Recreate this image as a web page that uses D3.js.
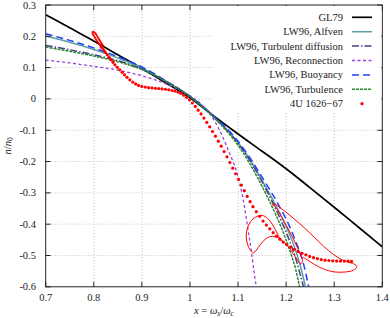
<!DOCTYPE html>
<html lang="en">
<head>
<meta charset="UTF-8">
<title>n/n0 vs x</title>
<style>
  body { margin: 0; background: #fff; }
  text { font-family: "Liberation Serif", "Times New Roman", serif; fill: #222; }
</style>
</head>
<body>
<script src="https://d3js.org/d3.v7.min.js"></script>
<div id="chart"></div>
<script>

// tick values
var xTicks = [0.7, 0.8, 0.9, 1.0, 1.1, 1.2, 1.3, 1.4]
var yTicks = [0.3, 0.2, 0.1, 0, -0.1, -0.2, -0.3, -0.4, -0.5, -0.6]

// model curves
var gl79 = [[0.7,0.269],[0.75,0.227],[0.8,0.185],[0.85,0.141],[0.9,0.097],[0.95,0.051],[1.0,0.004],
  [1.05,-0.055],[1.1,-0.112],[1.15,-0.167],[1.2,-0.223],[1.25,-0.284],[1.3,-0.346],[1.35,-0.409],[1.4,-0.472]]

var alfven = [[0.7,0.201],[0.75,0.181],[0.8,0.158],[0.85,0.131],[0.9,0.099],[0.95,0.056],[1.0,0.008],
  [1.05,-0.057],[1.1,-0.14],[1.13,-0.207],[1.15,-0.26],[1.17,-0.315],[1.19,-0.375],[1.205,-0.425],
  [1.22,-0.485],[1.23,-0.535],[1.24,-0.6]]

var turbDiff = [[0.7,0.171],[0.75,0.157],[0.8,0.141],[0.85,0.122],[0.9,0.095],[0.95,0.056],[1.0,0.008],
  [1.05,-0.058],[1.1,-0.142],[1.13,-0.21],[1.15,-0.265],[1.17,-0.325],[1.19,-0.39],[1.205,-0.445],
  [1.22,-0.51],[1.236,-0.6]]

var reconnection = [[0.7,0.124],[0.75,0.115],[0.8,0.104],[0.85,0.092],[0.9,0.074],[0.95,0.048],[1.0,0.01],
  [1.02,-0.012],[1.04,-0.045],[1.06,-0.095],[1.07,-0.128],[1.08,-0.165],[1.09,-0.202],[1.097,-0.232],
  [1.103,-0.268],[1.11,-0.315],[1.115,-0.36],[1.12,-0.41],[1.128,-0.49],[1.133,-0.55],[1.138,-0.6]]

var buoyancy = [[0.7,0.208],[0.75,0.187],[0.8,0.163],[0.85,0.135],[0.9,0.102],[0.95,0.058],[1.0,0.008],
  [1.05,-0.056],[1.1,-0.135],[1.13,-0.2],[1.15,-0.25],[1.17,-0.3],[1.19,-0.355],[1.205,-0.4],
  [1.22,-0.455],[1.235,-0.52],[1.247,-0.6]]

var turbulence = [[0.7,0.166],[0.75,0.152],[0.8,0.137],[0.85,0.119],[0.9,0.094],[0.95,0.056],[1.0,0.008],
  [1.05,-0.06],[1.1,-0.148],[1.12,-0.195],[1.14,-0.25],[1.16,-0.31],[1.18,-0.375],[1.195,-0.43],
  [1.21,-0.495],[1.22,-0.545],[1.228,-0.6]]

// 4U 1626-67 observed points
var obsDots = [[0.816,0.165],[0.820,0.157],[0.824,0.149],[0.828,0.141],[0.832,0.133],[0.836,0.125],
  [0.840,0.117],[0.844,0.109],[0.849,0.101],[0.854,0.093],[0.859,0.085],[0.864,0.077],[0.869,0.069],
  [0.875,0.061],[0.881,0.054],[0.887,0.048],[0.893,0.043],[0.900,0.040],[0.907,0.038],[0.914,0.036],
  [0.921,0.035],[0.928,0.034],[0.935,0.033],[0.942,0.032],[0.949,0.031],[0.956,0.029],[0.963,0.027],
  [0.969,0.025],[0.975,0.022],[0.981,0.018],[0.987,0.012],[0.993,0.005],[0.999,-0.003],[1.005,-0.013],
  [1.011,-0.024],[1.017,-0.036],[1.023,-0.048],[1.029,-0.061],[1.035,-0.075],[1.041,-0.089],
  [1.047,-0.104],[1.053,-0.119],[1.059,-0.135],[1.065,-0.151],[1.071,-0.168],[1.077,-0.185],
  [1.083,-0.203],[1.089,-0.221],[1.095,-0.239],[1.101,-0.257],[1.107,-0.275],[1.113,-0.293],
  [1.119,-0.311],[1.125,-0.328],[1.131,-0.344],[1.138,-0.36],[1.145,-0.375],[1.152,-0.39],
  [1.159,-0.403],[1.166,-0.415],[1.173,-0.427],[1.180,-0.438],[1.187,-0.448],[1.194,-0.457],
  [1.201,-0.465],[1.209,-0.473],[1.217,-0.48],[1.225,-0.487],[1.233,-0.493],[1.241,-0.498],
  [1.249,-0.503],[1.257,-0.507],[1.265,-0.51],[1.273,-0.513],[1.281,-0.515],[1.289,-0.516],
  [1.297,-0.517],[1.305,-0.518],[1.313,-0.518],[1.321,-0.518],[1.329,-0.518],[1.336,-0.519]]

// 4U 1626-67 trajectory segments drawn as a line
var obsLoopTop = [[0.824,0.151],[0.815,0.168],[0.806,0.187],[0.800,0.202],[0.797,0.212],[0.799,0.215],
  [0.803,0.21],[0.808,0.198],[0.814,0.183],[0.82,0.168]]

var obsLoopBottom = [[1.19,-0.455],[1.181,-0.428],[1.172,-0.402],[1.162,-0.382],[1.150,-0.372],
  [1.137,-0.377],[1.126,-0.392],[1.119,-0.415],[1.117,-0.443],[1.121,-0.470],[1.128,-0.488],
  [1.132,-0.492],[1.138,-0.483],[1.146,-0.466],[1.156,-0.449],[1.168,-0.439],[1.181,-0.442],
  [1.194,-0.455],[1.206,-0.475],[1.216,-0.497],[1.224,-0.516],[1.23,-0.527],[1.234,-0.518],
  [1.229,-0.495],[1.219,-0.46],[1.207,-0.423],[1.194,-0.386],[1.182,-0.354],[1.172,-0.335],
  [1.176,-0.336],[1.19,-0.35],[1.208,-0.372],[1.228,-0.398],[1.248,-0.426],[1.268,-0.456],
  [1.288,-0.484],[1.308,-0.507],[1.326,-0.52],[1.341,-0.527],[1.347,-0.536],[1.34,-0.547],
  [1.32,-0.553],[1.295,-0.551],[1.27,-0.538],[1.25,-0.52],[1.235,-0.505]]

var legendNames = ["GL79", "LW96, Alfven", "LW96, Turbulent diffusion", "LW96, Reconnection",
  "LW96, Buoyancy", "LW96, Turbulence", "4U 1626\u221267"]

var width = 390
var height = 318
var pLeft = 45.7, pRight = 382.3, pTop = 5, pBottom = 286.8

var svg = d3.select("#chart")
  .append("svg")
  .attr("width", width)
  .attr("height", height)

var x = d3.scaleLinear().domain([0.7, 1.4]).range([pLeft, pRight])
var y = d3.scaleLinear().domain([-0.6, 0.3]).range([pBottom, pTop])

svg.append("clipPath").attr("id", "clip")
  .append("rect")
  .attr("x", pLeft).attr("y", pTop)
  .attr("width", pRight - pLeft).attr("height", pBottom - pTop)

// grid
svg.append("g")
  .selectAll("line")
  .data(xTicks.slice(1, -1))
  .enter()
  .append("line")
  .attr("x1", function (d) { return x(d) }).attr("x2", function (d) { return x(d) })
  .attr("y1", pTop).attr("y2", pBottom)
  .attr("stroke", "#c4c4c4").attr("stroke-dasharray", "1,2")

svg.append("g")
  .selectAll("line")
  .data(yTicks.slice(1, -1))
  .enter()
  .append("line")
  .attr("y1", function (d) { return y(d) }).attr("y2", function (d) { return y(d) })
  .attr("x1", pLeft).attr("x2", pRight)
  .attr("stroke", "#c4c4c4").attr("stroke-dasharray", "1,2")

// curves
var line = d3.line()
  .x(function (d) { return x(d[0]) })
  .y(function (d) { return y(d[1]) })
  .curve(d3.curveMonotoneX)

var loopLine = d3.line()
  .x(function (d) { return x(d[0]) })
  .y(function (d) { return y(d[1]) })
  .curve(d3.curveCatmullRom.alpha(0.5))

var series = [
  { data: gl79, color: "#000000", dash: null, w: 1.7 },
  { data: alfven, color: "#5f9ea0", dash: null, w: 1.5 },
  { data: turbDiff, color: "#483d8b", dash: "7,2,1.5,2", w: 1.5 },
  { data: reconnection, color: "#9b40e0", dash: "3,2.5", w: 1.3 },
  { data: buoyancy, color: "#2040ff", dash: "7,4", w: 1.5 },
  { data: turbulence, color: "#2a8a2a", dash: "3,1", w: 1.5 }
]

var plot = svg.append("g").attr("clip-path", "url(#clip)")

plot.selectAll(".curve")
  .data(series)
  .enter()
  .append("path")
  .attr("class", "curve")
  .attr("d", function (d) { return line(d.data) })
  .attr("fill", "none")
  .attr("stroke", function (d) { return d.color })
  .attr("stroke-width", function (d) { return d.w })
  .attr("stroke-dasharray", function (d) { return d.dash })

plot.append("path")
  .attr("d", loopLine(obsLoopTop))
  .attr("fill", "none").attr("stroke", "#ff0000").attr("stroke-width", 1.8)

plot.append("path")
  .attr("d", loopLine(obsLoopBottom))
  .attr("fill", "none").attr("stroke", "#ff0000").attr("stroke-width", 1)

plot.selectAll(".dot")
  .data(obsDots)
  .enter()
  .append("circle")
  .attr("class", "dot")
  .attr("cx", function (d) { return x(d[0]) })
  .attr("cy", function (d) { return y(d[1]) })
  .attr("r", 1.6)
  .attr("fill", "#ff0000")

// frame + inward ticks
svg.append("rect")
  .attr("x", pLeft).attr("y", pTop)
  .attr("width", pRight - pLeft).attr("height", pBottom - pTop)
  .attr("fill", "none").attr("stroke", "#222").attr("stroke-width", 1)

var tk = 5
var ticks = svg.append("g").attr("stroke", "#222")
xTicks.forEach(function (d) {
  ticks.append("line").attr("x1", x(d)).attr("x2", x(d)).attr("y1", pBottom).attr("y2", pBottom - tk)
  ticks.append("line").attr("x1", x(d)).attr("x2", x(d)).attr("y1", pTop).attr("y2", pTop + tk)
})
yTicks.forEach(function (d) {
  ticks.append("line").attr("y1", y(d)).attr("y2", y(d)).attr("x1", pLeft).attr("x2", pLeft + tk)
  ticks.append("line").attr("y1", y(d)).attr("y2", y(d)).attr("x1", pRight).attr("x2", pRight - tk)
})

// tick labels
svg.append("g")
  .selectAll("text")
  .data(xTicks)
  .enter()
  .append("text")
  .attr("x", function (d) { return x(d) })
  .attr("y", pBottom + 14)
  .attr("text-anchor", "middle")
  .style("font-size", "10.5px")
  .text(function (d) { return String(+d.toFixed(1)) })

svg.append("g")
  .selectAll("text")
  .data(yTicks)
  .enter()
  .append("text")
  .attr("x", 36)
  .attr("y", function (d) { return y(d) + 3.5 })
  .attr("text-anchor", "end")
  .style("font-size", "10.5px")
  .text(function (d) { return String(+d.toFixed(1)) })

// axis titles
var xt = svg.append("text")
  .attr("x", (pLeft + pRight) / 2).attr("y", 314)
  .attr("text-anchor", "middle")
  .style("font-size", "10.5px")
xt.append("tspan").style("font-style", "italic").text("x")
xt.append("tspan").text(" = ")
xt.append("tspan").style("font-style", "italic").text("ω")
xt.append("tspan").attr("dy", 2).style("font-size", "7.5px").style("font-style", "italic").text("s")
xt.append("tspan").attr("dy", -2).text("/")
xt.append("tspan").style("font-style", "italic").text("ω")
xt.append("tspan").attr("dy", 2).style("font-size", "7.5px").style("font-style", "italic").text("c")

var yt = svg.append("text")
  .attr("transform", "translate(11," + ((pTop + pBottom) / 2) + ") rotate(-90)")
  .attr("text-anchor", "middle")
  .style("font-size", "10.5px")
yt.append("tspan").style("font-style", "italic").text("n")
yt.append("tspan").text("/")
yt.append("tspan").style("font-style", "italic").text("n")
yt.append("tspan").attr("dy", 2).style("font-size", "7.5px").text("0")

// legend
var legX = 343, sampleX1 = 352, sampleX2 = 372, legY0 = 17.3, legDy = 14.4
svg.append("rect")
  .attr("x", 214).attr("y", pTop + 1)
  .attr("width", pRight - 215).attr("height", 105)
  .attr("fill", "#fff")

var legend = svg.append("g")
legendNames.forEach(function (name, i) {
  var ly = legY0 + i * legDy
  legend.append("text")
    .attr("x", legX).attr("y", ly + 3.5)
    .attr("text-anchor", "end")
    .style("font-size", "10.5px")
    .text(name)
  if (i < series.length) {
    legend.append("line")
      .attr("x1", sampleX1).attr("x2", sampleX2)
      .attr("y1", ly).attr("y2", ly)
      .attr("stroke", series[i].color)
      .attr("stroke-width", series[i].w)
      .attr("stroke-dasharray", series[i].dash)
  } else {
    legend.append("circle")
      .attr("cx", (sampleX1 + sampleX2) / 2).attr("cy", ly)
      .attr("r", 1.6).attr("fill", "#ff0000")
  }
})

</script>
</body>
</html>
